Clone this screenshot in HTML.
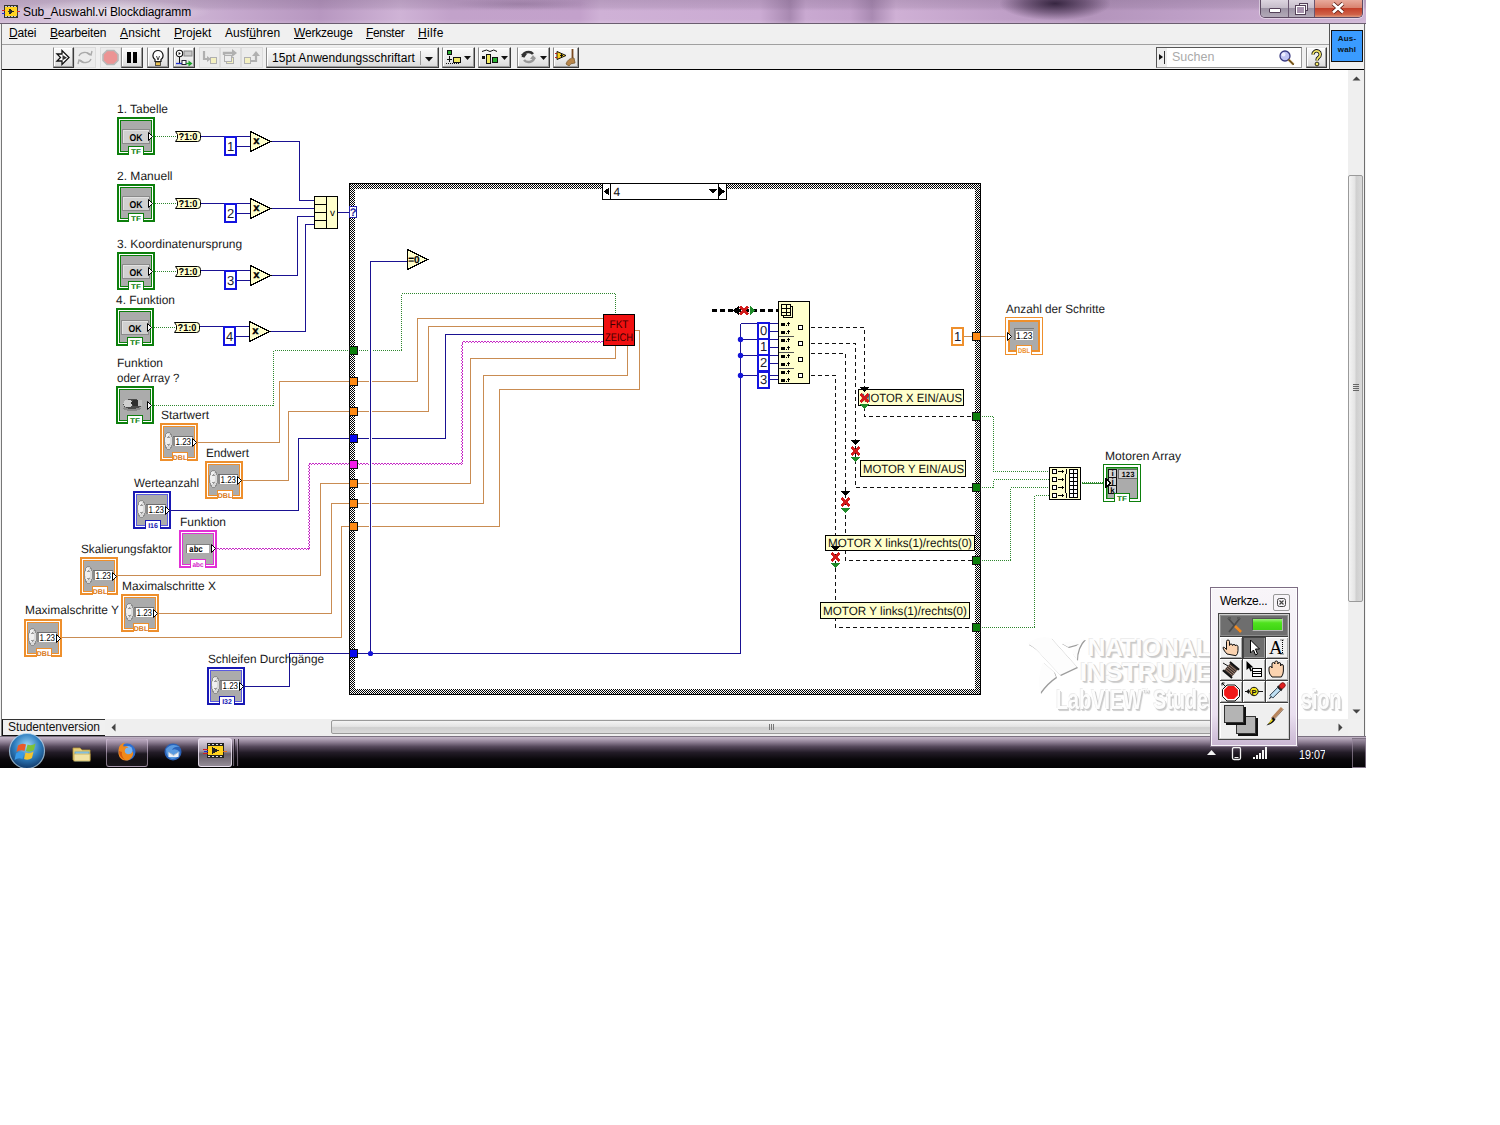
<!DOCTYPE html>
<html><head><meta charset="utf-8"><title>Sub_Auswahl.vi Blockdiagramm</title>
<style>
html,body{margin:0;padding:0;background:#fff}
svg text{-webkit-font-smoothing:antialiased}
body{width:1500px;height:1125px;position:relative;overflow:hidden;font-family:"Liberation Sans",sans-serif}
#win{position:absolute;left:0;top:0;width:1366px;height:768px;overflow:hidden;background:#c9b0d0}
#rb{position:absolute;left:1364px;top:24px;width:1px;height:713px;background:#6e6e6e;box-shadow:1px 0 0 #f4f4f4}
#tl{position:absolute;left:0;top:23px;width:1366px;height:1px;background:#6b5e70}
#canvas{position:absolute;left:2px;top:70px;width:1346px;height:649px;background:#fff}
#lb{position:absolute;left:0;top:23px;width:2px;height:714px;background:#f0f0f0;border-right:1px solid #777;box-sizing:border-box}
#bb{position:absolute;left:0;top:736px;width:1366px;height:1px;background:#7a7080}

#title{position:absolute;left:0;top:0;width:1366px;height:24px;overflow:hidden;background:linear-gradient(180deg,rgba(95,75,105,.22) 0%,rgba(95,75,105,.14) 30%,rgba(255,255,255,0) 45%,rgba(255,255,255,0) 80%,rgba(255,255,255,.18) 100%),linear-gradient(90deg,#cdb6d2 0.00%,#d8c6dc 8.78%,#c6a9ce 16.84%,#b797c0 23.43%,#cfb3d6 29.28%,#c2a2ca 32.94%,#c3a1cb 42.46%,#cfb1d6 43.92%,#cbabd3 55.64%,#a889b1 57.83%,#c9a9d1 59.00%,#c4a3cc 62.23%,#a98ab2 63.84%,#cfb0d5 65.59%,#c0a0c8 73.21%,#b394bb 79.80%,#bd9ec6 86.38%,#c6a8cd 92.24%,#ceb4d4 100.00%)}
#title .blob{position:absolute}
#wb{position:absolute;left:1260px;top:0;width:103px;height:18px;border:1px solid #5d4a63;border-top:none;border-radius:0 0 5px 5px;box-sizing:border-box;overflow:hidden;display:flex;box-shadow:0 0 0 1px rgba(255,255,255,.45)}
#wb>div{height:17px;box-sizing:border-box;position:relative}
#wb .mn{width:28px;border-right:1px solid #6a5670;background:linear-gradient(180deg,#ddd5e0 0%,#c6bdca 45%,#9d93a5 50%,#b3aab8 100%)}
#wb .mn i{position:absolute;left:8px;top:8px;width:10px;height:3px;background:#fff;border:1px solid #534058;border-radius:1px}
#wb .mx{width:27px;border-right:1px solid #6a5670;background:linear-gradient(180deg,#ddd5e0 0%,#c6bdca 45%,#9d93a5 50%,#b3aab8 100%)}
#wb .mx i{position:absolute;left:10px;top:3px;width:7px;height:6px;border:1px solid #534058;background:#eee;box-sizing:content-box}
#wb .mx b{position:absolute;left:7px;top:6px;width:7px;height:6px;border:1.5px solid #fff;outline:1px solid #534058;background:#a893ae;box-sizing:content-box}
#wb .cl{width:47px;background:linear-gradient(180deg,#e8aa9c 0%,#d98370 45%,#c4402a 50%,#cf6148 85%,#dd9a7e 100%)}
#wb .cl svg{position:absolute;left:16px;top:2px}
#menu{position:absolute;left:0;top:24px;width:1330px;height:20px;background:#f0f0f0;border-bottom:1px solid #a0a0a0}
#menu span{position:absolute;top:2px;font-size:12px;color:#000;white-space:nowrap}
#menu u{text-decoration:underline}

#tbar{position:absolute;left:0;top:45px;width:1330px;height:24px;background:#f0f0f0;border-bottom:1px solid #000}
.tb{position:absolute;top:2px;height:21px;box-sizing:border-box}
.tb.r{background:linear-gradient(180deg,#fbfbfb 0%,#ececec 55%,#d9d9d9 100%);border:1px solid;border-color:#e6e6e6 #3c3c3c #3c3c3c #8c8c8c;box-shadow:inset -1px -1px 0 #9c9c9c, inset 1px 1px 0 #fff}
.tb.r>svg.ic{left:-1px!important;top:-1px!important}
.tb.f{background:#ececec;border:1px solid #dcdcdc}
.tb.f>svg.ic{left:-1px!important;top:-1px!important}
#srch{position:absolute;left:1156px;top:2px;width:146px;height:21px;box-sizing:border-box;background:#fff;border:1px solid;border-color:#555 #999 #999 #555}
#srch .sb{position:absolute;left:0;top:0;width:10px;height:19px;background:#eee}
#srch span{position:absolute;left:15px;top:2px;font-size:12.5px;color:#aaa}
#ipane{position:absolute;left:1329px;top:24px;width:36px;height:45px;background:#f0f0f0;border-left:1px solid #555;border-bottom:1px solid #000}
#vico{position:absolute;left:1px;top:6px;width:32px;height:32px;box-sizing:border-box;background:#3a9bff;border:1px solid #111}
#vico span{position:absolute;left:0;width:30px;text-align:center;font-size:8px;font-weight:bold;color:#0a1420;letter-spacing:.2px;line-height:9px}

#vs{position:absolute;left:1348px;top:70px;width:16px;height:649px;background:#efefef;box-sizing:border-box}
#vs .th{position:absolute;border:1px solid #9a9a9a;border-radius:2px;box-sizing:border-box;background:linear-gradient(90deg,#f4f4f4 0%,#e4e4e4 45%,#cfcfcf 55%,#dadada 100%)}
#vs .th i{position:absolute;left:4px;width:6px;height:1px;background:#666}
#hs{position:absolute;left:2px;top:719px;width:1346px;height:17px;background:#efefef;box-sizing:border-box}
#hs .thh{position:absolute;border:1px solid #9a9a9a;border-radius:2px;box-sizing:border-box;background:linear-gradient(180deg,#f4f4f4 0%,#e4e4e4 45%,#cfcfcf 55%,#dadada 100%)}
#hs .thh i{position:absolute;top:3px;width:1px;height:6px;background:#777}
#stv{position:absolute;left:0;top:0;width:103px;height:17px;box-sizing:border-box;background:#f0f0f0;border-left:1px solid #111;border-bottom:1px solid #111;border-top:1px solid #333;font-size:12px;line-height:15px;padding-left:5px;color:#111;white-space:nowrap;letter-spacing:-0.1px}
#corner{position:absolute;left:1348px;top:719px;width:16px;height:17px;background:#f0f0f0}

#task{position:absolute;left:0;top:737px;width:1366px;height:31px;
 background:linear-gradient(180deg,#c2b5c6 0%,#b0a2b5 7%,#8d7e93 17%,#55485b 31%,#231c27 50%,#0a080b 72%,#020203 100%)}
#task .tbtn{position:absolute;top:1px;height:29px;box-sizing:border-box;border:1px solid rgba(220,200,225,.55);border-radius:3px;background:linear-gradient(180deg,rgba(200,180,205,.55) 0%,rgba(120,105,125,.4) 45%,rgba(30,25,32,.35) 55%,rgba(60,52,62,.4) 100%)}
#task .tbtn.act{background:linear-gradient(180deg,rgba(235,225,238,.85) 0%,rgba(190,178,193,.8) 45%,rgba(130,120,133,.75) 55%,rgba(185,175,188,.8) 100%);border-color:rgba(240,230,245,.8)}
#task .grip{position:absolute;top:2px;width:2px;height:27px;border-left:1px solid rgba(200,185,205,.5);border-right:1px solid rgba(20,15,22,.7);box-sizing:border-box}
#sd{position:absolute;left:1352px;top:1px;width:14px;height:30px;box-sizing:border-box;border:1px solid rgba(150,135,155,.7);background:linear-gradient(180deg,rgba(150,135,155,.6),rgba(30,26,32,.5) 50%,rgba(8,6,9,.6))}

#wm span{position:absolute;white-space:nowrap;font-weight:bold;color:#fdfdfd;text-shadow:1px 1px 0 #c9c9c9,2px 2px 1px #cfcfcf,-1px -1px 0 #ededed;line-height:1}

#pal{position:absolute;left:1210px;top:587px;width:88px;height:160px;box-sizing:border-box;border:1px solid #7d6d84;background:linear-gradient(180deg,#f8f5f9 0%,#f4eff6 40%,#eadff0 80%,#c9b6d2 100%);box-shadow:inset 0 0 0 1px rgba(255,255,255,.85)}
#pal .pt{position:absolute;left:9px;top:6px;font-size:12px;color:#000;letter-spacing:-.35px}
#pal .px{position:absolute;left:62px;top:6px;width:17px;height:17px;box-sizing:border-box;border:1px solid #999;border-radius:2px;background:#f7f4f8}
#pal .pin{position:absolute;left:7px;top:25px;width:72px;height:127px;box-sizing:border-box;border:1px solid #444;background:#3c3c3c;box-shadow:inset 0 0 0 1px #cfcfcf}
#pal .ptop{position:absolute;left:1px;top:1px;width:68px;height:21px;background:#6e6e6e;box-shadow:inset 0 0 0 1px #8c8c8c}
#pal .led{position:absolute;left:32px;top:3px;width:31px;height:13px;box-sizing:border-box;border:1px solid #9a9a9a;border-color:#555 #b8b8b8 #b8b8b8 #555;background:linear-gradient(180deg,#9cf57a 0%,#4fe21e 35%,#3fd414 100%)}
#pal .pc{position:absolute;width:22px;height:21px;background:#f0f0f0;box-shadow:inset 1px 1px 0 #fff,inset -1px -1px 0 #a8a8a8}
#pal .pc.sel{background:#6e6e6e;box-shadow:inset 1px 1px 0 #444,inset -1px -1px 0 #999}
#pal .pbot{position:absolute;left:1px;top:89px;width:68px;height:35px;background:#efefef;box-shadow:inset 1px 1px 0 #fff}
#pal .pbot i{position:absolute;width:20px;height:18px;box-sizing:border-box;background:#b4b4b4;border:1px solid #333;box-shadow:2px 2px 0 #111}
#pal .pbot .c1{left:4px;top:2px}
#pal .pbot .c2{left:16px;top:13px}
</style></head>
<body><div id="win">
<div id="title">
<div class="blob" style="left:1000px;top:-10px;width:110px;height:30px;background:radial-gradient(ellipse at 50% 45%,rgba(35,20,45,.85),rgba(60,40,70,.5) 40%,rgba(90,70,100,0) 72%)"></div>
<div class="blob" style="left:450px;top:-2px;width:140px;height:12px;background:radial-gradient(ellipse at center,rgba(120,95,130,.35),rgba(120,95,130,0) 70%)"></div>
<svg width="18" height="14" style="position:absolute;left:2px;top:5px" shape-rendering="crispEdges"><rect x="2" y="0" width="14" height="13" fill="#333"/><rect x="3" y="2" width="12" height="9" fill="#ffd21e"/><path d="M7,3.500 l5,3 l-5,3z" fill="#222"/><path d="M3,1h2v1h-2zM6,1h2v1h-2zM9,1h2v1h-2zM12,1h2v1h-2zM3,11h2v1h-2zM6,11h2v1h-2zM9,11h2v1h-2zM12,11h2v1h-2z" fill="#ccc"/><rect x="0" y="5" width="3" height="1" fill="#d02020"/><rect x="0" y="8" width="3" height="1" fill="#2030d0"/><rect x="15" y="6" width="3" height="1" fill="#d02020"/><path d="M6,6.500 h3 M7.500,5 v3" stroke="#333" stroke-width="1"/></svg>
<div class="blob" style="left:10px;top:0px;width:200px;height:24px;background:radial-gradient(ellipse at center,rgba(255,255,255,.55),rgba(255,255,255,0) 72%)"></div><span style="position:absolute;left:23px;top:5px;font-size:12px;color:#000;white-space:nowrap;letter-spacing:-0.12px">Sub_Auswahl.vi Blockdiagramm</span>
<div id="wb"><div class="mn"><i></i></div><div class="mx"><i></i><b></b></div><div class="cl"><svg width="14" height="12" viewBox="0 0 14 12"><path d="M2,1.5 L12,10.5 M12,1.5 L2,10.5" stroke="#5a1a10" stroke-width="4.2"/><path d="M2,1.5 L12,10.5 M12,1.5 L2,10.5" stroke="#fff" stroke-width="2.6"/></svg></div></div>
</div>
<div id="menu"><span style="left:9px;letter-spacing:-0.18px"><u>D</u>atei</span><span style="left:50px;letter-spacing:-0.19px"><u>B</u>earbeiten</span><span style="left:120px;letter-spacing:0.13px"><u>A</u>nsicht</span><span style="left:174px;letter-spacing:0px"><u>P</u>rojekt</span><span style="left:225px;letter-spacing:0.05px">Ausf<u>ü</u>hren</span><span style="left:294px;letter-spacing:-0.2px"><u>W</u>erkzeuge</span><span style="left:366px;letter-spacing:-0.33px"><u>F</u>enster</span><span style="left:418px;letter-spacing:0.36px"><u>H</u>ilfe</span></div>
<div id="tbar">
<div class="tb r" style="left:53px;width:21px"><svg class="ic" width="21" height="21" viewBox="0 0 21 21" style="position:absolute;left:0;top:0"><path d="M4,7 h5 v-3.5 l7,7 l-7,7 v-3.5 h-5 l3.5,-3.5 z" fill="#fff" stroke="#111" stroke-width="1.3"/><path d="M9.5,8 l4.5,2.8 l-4.5,2.4 z" fill="#333"/></svg></div>
<div class="tb f" style="left:74px;width:22px"><svg class="ic" width="22" height="21" viewBox="0 0 22 21" style="position:absolute;left:0;top:0"><g fill="none" stroke="#aaa" stroke-width="1.4"><path d="M5,9 a6,5 0 0 1 11,-1"/><path d="M17,12 a6,5 0 0 1 -11,1"/><path d="M13,6 l4,2 l1,-4 M9,15 l-4,-2 l-1,4"/></g></svg></div>
<div class="tb f" style="left:100px;width:21px"><svg class="ic" width="21" height="21" viewBox="0 0 21 21" style="position:absolute;left:0;top:0"><path d="M7,3.5 h7 l4,4 v6 l-4,4 h-7 l-4,-4 v-6 z" fill="#ec9494" stroke="#b8b8b8" stroke-width="1.6"/></svg></div>
<div class="tb r" style="left:121px;width:22px"><svg class="ic" width="22" height="21" viewBox="0 0 22 21" style="position:absolute;left:0;top:0"><rect x="6" y="5" width="4" height="11" fill="#000"/><rect x="12" y="5" width="4" height="11" fill="#000"/></svg></div>
<div class="tb r" style="left:147px;width:22px"><svg class="ic" width="22" height="21" viewBox="0 0 22 21" style="position:absolute;left:0;top:0"><path d="M11,3.5 a5,5 0 0 1 3,9 v2 h-6 v-2 a5,5 0 0 1 3,-9 z" fill="#fff" stroke="#111" stroke-width="1.2"/><path d="M9.5,9 l1.5,4 l1.5,-4" fill="none" stroke="#111" stroke-width=".8"/><rect x="8.5" y="15" width="5" height="3.5" fill="#e8c050" stroke="#333" stroke-width=".8"/></svg></div>
<div class="tb r" style="left:173px;width:22px"><svg class="ic" width="22" height="21" viewBox="0 0 22 21" style="position:absolute;left:0;top:0"><circle cx="6.5" cy="6.5" r="3.2" fill="#fff" stroke="#111" stroke-width="1.1"/><path d="M5.6,5 v3 l2.2,-1.5z" fill="#111"/><path d="M6.5,10 v6" stroke="#111"/><rect x="11" y="4" width="8" height="5" fill="#c8c8c8" stroke="#888"/><path d="M3,16.5 h8" stroke="#2030d0" stroke-width="1.3"/><rect x="9" y="13.5" width="4" height="4" fill="#fff" stroke="#223" /><path d="M13,16.5 h3" stroke="#18a028" stroke-width="1.3"/><path d="M15.5,13.5 l4,3 l-4,3z" fill="#18a028"/></svg></div>
<div class="tb f" style="left:199px;width:21px"><svg class="ic" width="21" height="21" viewBox="0 0 21 21" style="position:absolute;left:0;top:0"><path d="M5,4 v8 h4" fill="none" stroke="#b0b0b0" stroke-width="2.2"/><path d="M8,9 l4,3 l-4,3z" fill="#b0b0b0"/><rect x="11.5" y="10.5" width="6" height="6" fill="#f4f0c0" stroke="#b0b0b0"/></svg></div>
<div class="tb f" style="left:220px;width:21px"><svg class="ic" width="21" height="21" viewBox="0 0 21 21" style="position:absolute;left:0;top:0"><path d="M4,8 v-2 h9" fill="none" stroke="#b0b0b0" stroke-width="2.4"/><path d="M12,2 l5,4 l-5,4z" fill="#b0b0b0"/><rect x="6.500" y="10.5" width="7" height="6" fill="#f4f0c0" stroke="#b0b0b0"/><rect x="4.5" y="8.5" width="7" height="6" fill="#eee" stroke="#b0b0b0"/></svg></div>
<div class="tb f" style="left:241px;width:22px"><svg class="ic" width="22" height="21" viewBox="0 0 22 21" style="position:absolute;left:0;top:0"><rect x="3.5" y="10.5" width="6" height="6" fill="#f4f0c0" stroke="#b0b0b0"/><path d="M10,14 h5 v-6" fill="none" stroke="#b0b0b0" stroke-width="2.2"/><path d="M11,9 l4,-5 l4,5z" fill="#b0b0b0"/></svg></div>
<div class="tb r" style="left:266px;width:173px"><span style="position:absolute;left:5px;top:3px;font-size:12px;letter-spacing:0.06px;white-space:nowrap;color:#000">15pt Anwendungsschriftart</span><i style="position:absolute;left:153px;top:3px;width:1px;height:14px;background:#9a9a9a"></i><svg width="10" height="6" style="position:absolute;left:157px;top:8px"><path d="M1,1 h8 l-4,4.5z" fill="#111"/></svg></div>
<div class="tb r" style="left:442px;width:33px"><svg class="ic" width="33" height="21" viewBox="0 0 33 21" style="position:absolute;left:0;top:0"><rect x="5.500" y="3.500" width="4" height="4" fill="#28b030" stroke="#111"/><path d="M7.5,9 v6 M5,12.500 h5" stroke="#111"/><path d="M4,16.5 h14" stroke="#111" stroke-dasharray="1 1"/><rect x="11.500" y="10.500" width="7" height="5" fill="#f0e860" stroke="#111"/><path d="M22,9 h7 l-3.5,4z" fill="#111"/></svg></div>
<div class="tb r" style="left:478px;width:33px"><svg class="ic" width="33" height="21" viewBox="0 0 33 21" style="position:absolute;left:0;top:0"><path d="M4,4.5 q5,-3 8,0 q4,-3 7,0" fill="none" stroke="#111"/><rect x="4" y="9" width="3" height="3" fill="#111"/><rect x="8.500" y="7.500" width="4" height="9" fill="#f0e860" stroke="#111"/><rect x="14.500" y="10.500" width="5" height="5" fill="#28b030" stroke="#111"/><path d="M23,9 h7 l-3.5,4z" fill="#111"/></svg></div>
<div class="tb r" style="left:517px;width:33px"><svg class="ic" width="33" height="21" viewBox="0 0 33 21" style="position:absolute;left:0;top:0"><g fill="none" stroke-width="2.6"><path d="M6,10 a5.5,4.500 0 0 1 10,-3" stroke="#333"/><path d="M17,10 a5.500,4.500 0 0 1 -10,3" stroke="#999"/></g><path d="M4,7 l3,4 l3,-4z" fill="#333"/><path d="M13,12 l3,-4 l3,4z" fill="#999"/><path d="M23,9 h7 l-3.5,4z" fill="#111"/></svg></div>
<div class="tb r" style="left:553px;width:26px"><svg class="ic" width="26" height="21" viewBox="0 0 26 21" style="position:absolute;left:0;top:0"><path d="M4,4.500 l9,4 l-9,4z" fill="#ffd21e" stroke="#111"/><path d="M2,6.500 h2 M2,10.500 h2" stroke="#c02020"/><path d="M7,8.500 h3 M8.500,7 v3" stroke="#111"/><path d="M19.500,2 v9" stroke="#7a4a20" stroke-width="1.800"/><path d="M13,17 q2,-6 8,-6 l1,5 q-5,0 -6,3z" fill="#b8864a" stroke="#7a5a30" stroke-width=".8"/></svg></div>
<div id="srch"><div class="sb"><svg width="6" height="7" style="position:absolute;left:2px;top:6px"><path d="M0,0 l4,3 l-4,3z" fill="#111"/></svg><i style="position:absolute;left:7px;top:3px;width:1px;height:13px;background:#333"></i></div><span>Suchen</span><svg width="20" height="19" viewBox="0 0 20 19" style="position:absolute;left:120px;top:1px"><circle cx="8" cy="7" r="5" fill="#c0c4f4" stroke="#3a3a80" stroke-width="1.3"/><circle cx="6.500" cy="5.500" r="2" fill="#eef"/><path d="M11.500,10.500 l5,5" stroke="#a07830" stroke-width="2.400"/><path d="M11.500,10.500 l5.5,5.500" stroke="#4a3a20" stroke-width=".8"/></svg></div>
<div class="tb r" style="left:1306px;width:21px"><svg class="ic" width="21" height="21" viewBox="0 0 21 21" style="position:absolute;left:0;top:0"><path d="M7,7.500 a3.600,3.600 0 1 1 5.500,3 q-1.500,1 -1.500,3" fill="none" stroke="#111" stroke-width="3.400"/><path d="M7,7.500 a3.600,3.600 0 1 1 5.500,3 q-1.500,1 -1.500,3" fill="none" stroke="#f6e868" stroke-width="1.700"/><circle cx="11" cy="17" r="1.900" fill="#f6e868" stroke="#111" stroke-width=".9"/></svg></div>
</div>
<div id="ipane"><div id="vico"><span style="top:3px">Aus-</span><span style="top:14px">wahl</span></div></div>
<div id="lb"></div><div id="rb"></div><div id="tl"></div>
<div id="canvas"></div>
<div id="wm">
<svg width="62" height="58" viewBox="0 0 62 58" style="position:absolute;left:1027px;top:637px;filter:drop-shadow(1.5px 1.5px 0.6px #9c9c9c)">
<path d="M1,6 Q12,-2 24,1 L50,30 L33,38 L16,20 Q8,10 1,7 Z" fill="#fdfdfd"/>
<path d="M16,25 Q10,40 13,56 Q20,46 29,40 L27,35 Z" fill="#fdfdfd"/>
<path d="M34,6 L58,2 Q50,10 50,23 L45,16 Q47,10 52,7 L41,10 Z" fill="#fdfdfd"/>
</svg>
<span style="left:1088px;top:636px;font-size:24px;letter-spacing:0.1px">NATIONAL</span>
<span style="left:1080px;top:659px;font-size:26px;letter-spacing:-0.35px">INSTRUMENTS</span>
<span style="left:1056px;top:687px;font-size:27px;transform:scaleX(.735);transform-origin:0 0">LabVIEW<sup style="font-size:10px;vertical-align:top;position:relative;top:1px;margin-right:5px">™</sup>Student</span>
<span style="left:1270px;top:687px;font-size:27px;transform:scaleX(.735);transform-origin:0 0"><span style="position:static;visibility:hidden;text-shadow:none">Ver</span>sion</span>
</div>
<svg width="1366" height="768" viewBox="0 0 1366 768" style="position:absolute;left:0;top:0" shape-rendering="crispEdges" text-rendering="geometricPrecision"><defs><pattern id="chk" width="2" height="2" patternUnits="userSpaceOnUse"><rect width="2" height="2" fill="#fff"/><rect width="1" height="1" fill="#000"/><rect x="1" y="1" width="1" height="1" fill="#000"/></pattern></defs>
<path fill-rule="evenodd" fill="url(#chk)" d="M349,183 H981 V695 H349 Z M355,189 V689 H975 V189 Z"/>
<path fill="none" stroke="#000" stroke-width="1" d="M349.5,183.5 H980.5 V694.5 H349.5 Z"/>
<polyline points="154.5,136.5 175.5,136.5" fill="none" stroke="#2d862d" stroke-width="1" stroke-dasharray="1 1" />
<polyline points="200.5,136.5 250.5,136.5" fill="none" stroke="#1a1292" stroke-width="1" />
<polyline points="236.5,146.5 250.5,146.5" fill="none" stroke="#1a1292" stroke-width="1" />
<polyline points="154.5,203.5 175.5,203.5" fill="none" stroke="#2d862d" stroke-width="1" stroke-dasharray="1 1" />
<polyline points="200.5,203.5 250.5,203.5" fill="none" stroke="#1a1292" stroke-width="1" />
<polyline points="236.5,213.5 250.5,213.5" fill="none" stroke="#1a1292" stroke-width="1" />
<polyline points="154.5,271.5 175.5,271.5" fill="none" stroke="#2d862d" stroke-width="1" stroke-dasharray="1 1" />
<polyline points="200.5,270.5 250.5,270.5" fill="none" stroke="#1a1292" stroke-width="1" />
<polyline points="236.5,280.5 250.5,280.5" fill="none" stroke="#1a1292" stroke-width="1" />
<polyline points="153.5,327.5 174.5,327.5" fill="none" stroke="#2d862d" stroke-width="1" stroke-dasharray="1 1" />
<polyline points="199.5,326.5 249.5,326.5" fill="none" stroke="#1a1292" stroke-width="1" />
<polyline points="235.5,336.5 249.5,336.5" fill="none" stroke="#1a1292" stroke-width="1" />
<polyline points="270.5,141.5 299.5,141.5 299.5,200.5 314.5,200.5" fill="none" stroke="#1a1292" stroke-width="1" />
<polyline points="270.5,208.5 314.5,208.5" fill="none" stroke="#1a1292" stroke-width="1" />
<polyline points="270.5,275.5 297.5,275.5 297.5,216.5 314.5,216.5" fill="none" stroke="#1a1292" stroke-width="1" />
<polyline points="269.5,331.5 305.5,331.5 305.5,224.5 314.5,224.5" fill="none" stroke="#1a1292" stroke-width="1" />
<polyline points="337.5,212.5 349.5,212.5" fill="none" stroke="#1a1292" stroke-width="1" />
<polyline points="153.5,405.5 273.5,405.5 273.5,350.5 401.5,350.5 401.5,293.5 615.5,293.5 615.5,314.5" fill="none" stroke="#2d862d" stroke-width="1" stroke-dasharray="1 1" />
<polyline points="197.5,442.5 279.5,442.5 279.5,381.5 417.5,381.5 417.5,318.5 603.5,318.5" fill="none" stroke="#c98c52" stroke-width="1" />
<polyline points="242.5,480.5 288.5,480.5 288.5,411.5 428.5,411.5 428.5,326.5 603.5,326.5" fill="none" stroke="#c98c52" stroke-width="1" />
<polyline points="170.5,510.5 298.5,510.5 298.5,438.5 445.5,438.5 445.5,334.5 603.5,334.5" fill="none" stroke="#1a1292" stroke-width="1" />
<polyline points="216.5,548.5 309.5,548.5 309.5,463.5 462.5,463.5 462.5,341.5 603.5,341.5" fill="none" stroke="#c62ac6" stroke-width="1" stroke-dasharray="2 1" />
<polyline points="215.5,549.5 308.5,549.5 308.5,464.5 461.5,464.5 461.5,342.5 602.5,342.5" fill="none" stroke="#c62ac6" stroke-width="1" stroke-dasharray="1 2" />
<polyline points="117.5,575.5 320.5,575.5 320.5,483.5 470.5,483.5 470.5,358.5 615.5,358.5 615.5,345.5" fill="none" stroke="#c98c52" stroke-width="1" />
<polyline points="158.5,613.5 331.5,613.5 331.5,503.5 483.5,503.5 483.5,375.5 627.5,375.5 627.5,345.5" fill="none" stroke="#c98c52" stroke-width="1" />
<polyline points="61.5,637.5 341.5,637.5 341.5,526.5 499.5,526.5 499.5,389.5 639.5,389.5 639.5,330.5 634.5,330.5" fill="none" stroke="#c98c52" stroke-width="1" />
<polyline points="244.5,686.5 289.5,686.5 289.5,653.5 740.5,653.5 740.5,323.5" fill="none" stroke="#1a1292" stroke-width="1" />
<polyline points="370.5,653.5 370.5,261.5 407.5,261.5" fill="none" stroke="#1a1292" stroke-width="1" />
<circle cx="370.5" cy="653.5" r="2.6" fill="#1414d8" shape-rendering="geometricPrecision"/>
<polyline points="740.5,323.5 778.5,323.5" fill="none" stroke="#1a1292" stroke-width="1" />
<polyline points="740.5,339.5 778.5,339.5" fill="none" stroke="#1a1292" stroke-width="1" />
<polyline points="740.5,355.5 778.5,355.5" fill="none" stroke="#1a1292" stroke-width="1" />
<polyline points="740.5,375.5 778.5,375.5" fill="none" stroke="#1a1292" stroke-width="1" />
<circle cx="740.5" cy="339.5" r="2.7" fill="#1414d8" shape-rendering="geometricPrecision"/>
<circle cx="740.5" cy="355.5" r="2.7" fill="#1414d8" shape-rendering="geometricPrecision"/>
<circle cx="740.5" cy="375.5" r="2.7" fill="#1414d8" shape-rendering="geometricPrecision"/>
<polyline points="768.5,331.5 778.5,331.5" fill="none" stroke="#1a1292" stroke-width="1" />
<polyline points="768.5,347.5 778.5,347.5" fill="none" stroke="#1a1292" stroke-width="1" />
<polyline points="768.5,363.5 778.5,363.5" fill="none" stroke="#1a1292" stroke-width="1" />
<polyline points="768.5,379.5 778.5,379.5" fill="none" stroke="#1a1292" stroke-width="1" />
<rect x="369" y="340" width="1" height="200" fill="#fff"/>
<rect x="371" y="340" width="1" height="200" fill="#fff"/>
<polyline points="810.5,327.5 864.5,327.5 864.5,416.5 972.5,416.5" fill="none" stroke="#111" stroke-width="1" stroke-dasharray="4 3" />
<polyline points="810.5,343.5 855.5,343.5 855.5,487.5 972.5,487.5" fill="none" stroke="#111" stroke-width="1" stroke-dasharray="4 3" />
<polyline points="810.5,353.5 845.5,353.5 845.5,560.5 972.5,560.5" fill="none" stroke="#111" stroke-width="1" stroke-dasharray="4 3" />
<polyline points="810.5,375.5 835.5,375.5 835.5,627.5 972.5,627.5" fill="none" stroke="#111" stroke-width="1" stroke-dasharray="4 3" />
<path d="M712,310 L778,310" stroke="#000" stroke-width="3" stroke-dasharray="5 3" fill="none" transform="skewX(-20) translate(113,0)"/>
<polyline points="963.5,336.5 1005.5,336.5" fill="none" stroke="#c98c52" stroke-width="1" />
<polyline points="981.5,416.5 993.5,416.5 993.5,471.5 1049.5,471.5" fill="none" stroke="#2d862d" stroke-width="1" stroke-dasharray="1 1" />
<polyline points="981.5,487.5 993.5,487.5 993.5,479.5 1049.5,479.5" fill="none" stroke="#2d862d" stroke-width="1" stroke-dasharray="1 1" />
<polyline points="981.5,560.5 1010.5,560.5 1010.5,487.5 1049.5,487.5" fill="none" stroke="#2d862d" stroke-width="1" stroke-dasharray="1 1" />
<polyline points="981.5,627.5 1034.5,627.5 1034.5,495.5 1049.5,495.5" fill="none" stroke="#2d862d" stroke-width="1" stroke-dasharray="1 1" />
<polyline points="1081.5,482.5 1104.5,482.5" fill="none" stroke="#2d862d" stroke-width="1" stroke-dasharray="1 1" />
<polyline points="1081.5,483.5 1104.5,483.5" fill="none" stroke="#2d862d" stroke-width="1" />
<rect x="349" y="346" width="9" height="9" fill="#111"/>
<rect x="350" y="347" width="7" height="7" fill="#0c7f0c"/>
<rect x="349" y="377" width="9" height="9" fill="#111"/>
<rect x="350" y="378" width="7" height="7" fill="#ff8a14"/>
<rect x="349" y="407" width="9" height="9" fill="#111"/>
<rect x="350" y="408" width="7" height="7" fill="#ff8a14"/>
<rect x="349" y="479" width="9" height="9" fill="#111"/>
<rect x="350" y="480" width="7" height="7" fill="#ff8a14"/>
<rect x="349" y="499" width="9" height="9" fill="#111"/>
<rect x="350" y="500" width="7" height="7" fill="#ff8a14"/>
<rect x="349" y="522" width="9" height="9" fill="#111"/>
<rect x="350" y="523" width="7" height="7" fill="#ff8a14"/>
<rect x="349" y="434" width="9" height="9" fill="#111"/>
<rect x="350" y="435" width="7" height="7" fill="#0a0aee"/>
<rect x="349" y="649" width="9" height="9" fill="#111"/>
<rect x="350" y="650" width="7" height="7" fill="#0a0aee"/>
<rect x="349" y="460" width="9" height="9" fill="#111"/>
<rect x="350" y="461" width="7" height="7" fill="#f41be8"/>
<rect x="972" y="332" width="9" height="9" fill="#111"/>
<rect x="973" y="333" width="7" height="7" fill="#ff8a14"/>
<rect x="972" y="412" width="9" height="9" fill="#111"/>
<rect x="973" y="413" width="7" height="7" fill="#0c7f0c"/>
<rect x="972" y="483" width="9" height="9" fill="#111"/>
<rect x="973" y="484" width="7" height="7" fill="#0c7f0c"/>
<rect x="972" y="556" width="9" height="9" fill="#111"/>
<rect x="973" y="557" width="7" height="7" fill="#0c7f0c"/>
<rect x="972" y="623" width="9" height="9" fill="#111"/>
<rect x="973" y="624" width="7" height="7" fill="#0c7f0c"/>
<rect x="349.5" y="206.5" width="7" height="11" fill="#fff" stroke="#2424a8" stroke-width="1"/>
<text x="353" y="216" font-size="11" fill="#1a1a98" font-weight="bold" text-anchor="middle" font-family="'Liberation Sans',sans-serif" >?</text>
<rect x="602.5" y="183.5" width="124" height="16" fill="#fff" stroke="#000" stroke-width="1"/>
<rect x="610" y="184" width="1" height="15" fill="#000"/>
<rect x="718" y="184" width="1" height="15" fill="#000"/>
<path d="M603.5,191.5 l5.5,-4 v8 z M725,191.5 l-6,-4.5 v9 z M709,189 h8 l-4,4.5 z" fill="#000"/>
<text x="613.5" y="196" font-size="12" fill="#111" font-weight="normal" text-anchor="start" font-family="'Liberation Sans',sans-serif" >4</text>
<text x="117" y="113" font-size="12" fill="#1a1a1a" font-weight="normal" text-anchor="start" font-family="'Liberation Sans',sans-serif" textLength="51" lengthAdjust="spacingAndGlyphs" >1. Tabelle</text>
<rect x="117" y="117" width="38" height="38" fill="#0c7f0c"/>
<rect x="119" y="119" width="34" height="34" fill="#fff"/>
<rect x="120" y="120" width="32" height="32" fill="#0c7f0c"/>
<rect x="121" y="121" width="30" height="30" fill="#ababab"/>
<rect x="122" y="129" width="28" height="15" fill="#8a8a8a"/>
<rect x="123" y="130" width="26" height="13" fill="#e2e2e2"/>
<rect x="124" y="131" width="25" height="12" fill="#d0d0d0"/>
<text x="136" y="141" font-size="10" fill="#000" font-weight="bold" text-anchor="middle" font-family="'Liberation Sans',sans-serif" textLength="13" lengthAdjust="spacingAndGlyphs" >OK</text>
<path d="M148.5,132.5 L152.5,136.5 L148.5,140.5 Z" fill="#fff" stroke="#000" stroke-width="1" shape-rendering="geometricPrecision"/>
<rect x="128" y="146" width="16" height="9" fill="#0c7f0c"/>
<rect x="129" y="147" width="14" height="8" fill="#fff"/>
<text x="136" y="153.6" font-size="7" fill="#0c7f0c" font-weight="bold" text-anchor="middle" font-family="'Liberation Sans',sans-serif" textLength="10" lengthAdjust="spacingAndGlyphs" >TF</text>
<path d="M175.5,131.5 H197.5 Q200.5,131.5 200.5,134.5 V138.5 Q200.5,141.5 197.5,141.5 H175.5 L177.5,138.5 V134.5 Z" fill="#ffffcc" stroke="#000" stroke-width="1" shape-rendering="geometricPrecision"/>
<text x="178.5" y="140.2" font-size="10" fill="#000" font-weight="bold" text-anchor="start" font-family="'Liberation Sans',sans-serif" textLength="19" lengthAdjust="spacingAndGlyphs" >?1:0</text>
<rect x="225.0" y="137.0" width="11" height="18" fill="#fff" stroke="#1414e0" stroke-width="2"/>
<text x="230.5" y="150.8" font-size="13" fill="#1a1a30" font-weight="normal" text-anchor="middle" font-family="'Liberation Sans',sans-serif" >1</text>
<path d="M250.5,131.5 L270.5,141.5 L250.5,151.5 Z" fill="#ffffcc" stroke="#000" stroke-width="1"/>
<text x="253.5" y="144" font-size="10.5" fill="#000" font-weight="bold" text-anchor="start" font-family="'Liberation Sans',sans-serif" stroke="#000" stroke-width="0.5">x</text>
<text x="117" y="180" font-size="12" fill="#1a1a1a" font-weight="normal" text-anchor="start" font-family="'Liberation Sans',sans-serif" textLength="55.5" lengthAdjust="spacingAndGlyphs" >2. Manuell</text>
<rect x="117" y="184" width="38" height="38" fill="#0c7f0c"/>
<rect x="119" y="186" width="34" height="34" fill="#fff"/>
<rect x="120" y="187" width="32" height="32" fill="#0c7f0c"/>
<rect x="121" y="188" width="30" height="30" fill="#ababab"/>
<rect x="122" y="196" width="28" height="15" fill="#8a8a8a"/>
<rect x="123" y="197" width="26" height="13" fill="#e2e2e2"/>
<rect x="124" y="198" width="25" height="12" fill="#d0d0d0"/>
<text x="136" y="208" font-size="10" fill="#000" font-weight="bold" text-anchor="middle" font-family="'Liberation Sans',sans-serif" textLength="13" lengthAdjust="spacingAndGlyphs" >OK</text>
<path d="M148.5,199.5 L152.5,203.5 L148.5,207.5 Z" fill="#fff" stroke="#000" stroke-width="1" shape-rendering="geometricPrecision"/>
<rect x="128" y="213" width="16" height="9" fill="#0c7f0c"/>
<rect x="129" y="214" width="14" height="8" fill="#fff"/>
<text x="136" y="220.6" font-size="7" fill="#0c7f0c" font-weight="bold" text-anchor="middle" font-family="'Liberation Sans',sans-serif" textLength="10" lengthAdjust="spacingAndGlyphs" >TF</text>
<path d="M175.5,198.5 H197.5 Q200.5,198.5 200.5,201.5 V205.5 Q200.5,208.5 197.5,208.5 H175.5 L177.5,205.5 V201.5 Z" fill="#ffffcc" stroke="#000" stroke-width="1" shape-rendering="geometricPrecision"/>
<text x="178.5" y="207.2" font-size="10" fill="#000" font-weight="bold" text-anchor="start" font-family="'Liberation Sans',sans-serif" textLength="19" lengthAdjust="spacingAndGlyphs" >?1:0</text>
<rect x="225.0" y="204.0" width="11" height="18" fill="#fff" stroke="#1414e0" stroke-width="2"/>
<text x="230.5" y="217.8" font-size="13" fill="#1a1a30" font-weight="normal" text-anchor="middle" font-family="'Liberation Sans',sans-serif" >2</text>
<path d="M250.5,198.5 L270.5,208.5 L250.5,218.5 Z" fill="#ffffcc" stroke="#000" stroke-width="1"/>
<text x="253.5" y="211" font-size="10.5" fill="#000" font-weight="bold" text-anchor="start" font-family="'Liberation Sans',sans-serif" stroke="#000" stroke-width="0.5">x</text>
<text x="117" y="248" font-size="12" fill="#1a1a1a" font-weight="normal" text-anchor="start" font-family="'Liberation Sans',sans-serif" textLength="125.2" lengthAdjust="spacingAndGlyphs" >3. Koordinatenursprung</text>
<rect x="117" y="252" width="38" height="38" fill="#0c7f0c"/>
<rect x="119" y="254" width="34" height="34" fill="#fff"/>
<rect x="120" y="255" width="32" height="32" fill="#0c7f0c"/>
<rect x="121" y="256" width="30" height="30" fill="#ababab"/>
<rect x="122" y="264" width="28" height="15" fill="#8a8a8a"/>
<rect x="123" y="265" width="26" height="13" fill="#e2e2e2"/>
<rect x="124" y="266" width="25" height="12" fill="#d0d0d0"/>
<text x="136" y="276" font-size="10" fill="#000" font-weight="bold" text-anchor="middle" font-family="'Liberation Sans',sans-serif" textLength="13" lengthAdjust="spacingAndGlyphs" >OK</text>
<path d="M148.5,267.5 L152.5,271.5 L148.5,275.5 Z" fill="#fff" stroke="#000" stroke-width="1" shape-rendering="geometricPrecision"/>
<rect x="128" y="281" width="16" height="9" fill="#0c7f0c"/>
<rect x="129" y="282" width="14" height="8" fill="#fff"/>
<text x="136" y="288.6" font-size="7" fill="#0c7f0c" font-weight="bold" text-anchor="middle" font-family="'Liberation Sans',sans-serif" textLength="10" lengthAdjust="spacingAndGlyphs" >TF</text>
<path d="M175.5,266.5 H197.5 Q200.5,266.5 200.5,269.5 V273.5 Q200.5,276.5 197.5,276.5 H175.5 L177.5,273.5 V269.5 Z" fill="#ffffcc" stroke="#000" stroke-width="1" shape-rendering="geometricPrecision"/>
<text x="178.5" y="275.2" font-size="10" fill="#000" font-weight="bold" text-anchor="start" font-family="'Liberation Sans',sans-serif" textLength="19" lengthAdjust="spacingAndGlyphs" >?1:0</text>
<rect x="225.0" y="271.0" width="11" height="18" fill="#fff" stroke="#1414e0" stroke-width="2"/>
<text x="230.5" y="284.8" font-size="13" fill="#1a1a30" font-weight="normal" text-anchor="middle" font-family="'Liberation Sans',sans-serif" >3</text>
<path d="M250.5,265.5 L270.5,275.5 L250.5,285.5 Z" fill="#ffffcc" stroke="#000" stroke-width="1"/>
<text x="253.5" y="278" font-size="10.5" fill="#000" font-weight="bold" text-anchor="start" font-family="'Liberation Sans',sans-serif" stroke="#000" stroke-width="0.5">x</text>
<text x="116" y="304" font-size="12" fill="#1a1a1a" font-weight="normal" text-anchor="start" font-family="'Liberation Sans',sans-serif" textLength="59" lengthAdjust="spacingAndGlyphs" >4. Funktion</text>
<rect x="116" y="308" width="38" height="38" fill="#0c7f0c"/>
<rect x="118" y="310" width="34" height="34" fill="#fff"/>
<rect x="119" y="311" width="32" height="32" fill="#0c7f0c"/>
<rect x="120" y="312" width="30" height="30" fill="#ababab"/>
<rect x="121" y="320" width="28" height="15" fill="#8a8a8a"/>
<rect x="122" y="321" width="26" height="13" fill="#e2e2e2"/>
<rect x="123" y="322" width="25" height="12" fill="#d0d0d0"/>
<text x="135" y="332" font-size="10" fill="#000" font-weight="bold" text-anchor="middle" font-family="'Liberation Sans',sans-serif" textLength="13" lengthAdjust="spacingAndGlyphs" >OK</text>
<path d="M147.5,323.5 L151.5,327.5 L147.5,331.5 Z" fill="#fff" stroke="#000" stroke-width="1" shape-rendering="geometricPrecision"/>
<rect x="127" y="337" width="16" height="9" fill="#0c7f0c"/>
<rect x="128" y="338" width="14" height="8" fill="#fff"/>
<text x="135" y="344.6" font-size="7" fill="#0c7f0c" font-weight="bold" text-anchor="middle" font-family="'Liberation Sans',sans-serif" textLength="10" lengthAdjust="spacingAndGlyphs" >TF</text>
<path d="M174.5,322.5 H196.5 Q199.5,322.5 199.5,325.5 V329.5 Q199.5,332.5 196.5,332.5 H174.5 L176.5,329.5 V325.5 Z" fill="#ffffcc" stroke="#000" stroke-width="1" shape-rendering="geometricPrecision"/>
<text x="177.5" y="331.2" font-size="10" fill="#000" font-weight="bold" text-anchor="start" font-family="'Liberation Sans',sans-serif" textLength="19" lengthAdjust="spacingAndGlyphs" >?1:0</text>
<rect x="224.0" y="327.0" width="11" height="18" fill="#fff" stroke="#1414e0" stroke-width="2"/>
<text x="229.5" y="340.8" font-size="13" fill="#1a1a30" font-weight="normal" text-anchor="middle" font-family="'Liberation Sans',sans-serif" >4</text>
<path d="M249.5,321.5 L269.5,331.5 L249.5,341.5 Z" fill="#ffffcc" stroke="#000" stroke-width="1"/>
<text x="252.5" y="334" font-size="10.5" fill="#000" font-weight="bold" text-anchor="start" font-family="'Liberation Sans',sans-serif" stroke="#000" stroke-width="0.5">x</text>
<rect x="314.5" y="196.5" width="23" height="32" fill="#ffffcc" stroke="#000" stroke-width="1"/>
<rect x="326" y="196" width="1" height="33" fill="#000"/>
<rect x="314" y="204" width="13" height="1" fill="#000"/>
<rect x="314" y="212" width="13" height="1" fill="#000"/>
<rect x="314" y="220" width="13" height="1" fill="#000"/>
<text x="332.5" y="215.5" font-size="10" fill="#000" font-weight="normal" text-anchor="middle" font-family="'Liberation Sans',sans-serif" >v</text>
<path d="M407.5,249.5 L427.5,259.5 L407.5,269.5 Z" fill="#ffffcc" stroke="#000" stroke-width="1"/>
<text x="408.2" y="262.6" font-size="10" fill="#000" font-weight="bold" text-anchor="start" font-family="'Liberation Sans',sans-serif" stroke="#000" stroke-width="0.2">=0</text>
<text x="117" y="367" font-size="12" fill="#1a1a1a" font-weight="normal" text-anchor="start" font-family="'Liberation Sans',sans-serif" textLength="46" lengthAdjust="spacingAndGlyphs" >Funktion</text>
<text x="117" y="382" font-size="12" fill="#1a1a1a" font-weight="normal" text-anchor="start" font-family="'Liberation Sans',sans-serif" textLength="62.5" lengthAdjust="spacingAndGlyphs" >oder Array ?</text>
<rect x="116" y="386" width="38" height="38" fill="#0c7f0c"/>
<rect x="118" y="388" width="34" height="34" fill="#fff"/>
<rect x="119" y="389" width="32" height="32" fill="#0c7f0c"/>
<rect x="120" y="390" width="30" height="30" fill="#ababab"/>
<ellipse cx="132" cy="408.5" rx="9" ry="2.5" fill="#8a8a8a"/>
<ellipse cx="132.5" cy="404" rx="9.5" ry="5" fill="#4a4a4a"/>
<ellipse cx="128" cy="403.5" rx="4.5" ry="3.6" fill="#cfcfcf"/>
<ellipse cx="136" cy="403" rx="5" ry="3" fill="#2e2e2e"/>
<ellipse cx="140" cy="403" rx="2.4" ry="3.4" fill="#bdbdbd"/>
<path d="M147.5,401.5 L151.5,405.5 L147.5,409.5 Z" fill="#fff" stroke="#000" stroke-width="1" shape-rendering="geometricPrecision"/>
<rect x="127" y="415" width="16" height="9" fill="#0c7f0c"/>
<rect x="128" y="416" width="14" height="8" fill="#fff"/>
<text x="135" y="422.6" font-size="7" fill="#0c7f0c" font-weight="bold" text-anchor="middle" font-family="'Liberation Sans',sans-serif" textLength="10" lengthAdjust="spacingAndGlyphs" >TF</text>
<text x="161" y="419" font-size="12" fill="#1a1a1a" font-weight="normal" text-anchor="start" font-family="'Liberation Sans',sans-serif" textLength="48" lengthAdjust="spacingAndGlyphs" >Startwert</text>
<rect x="160" y="423" width="38" height="38" fill="#ee8f2c"/>
<rect x="162" y="425" width="34" height="34" fill="#fff"/>
<rect x="163" y="426" width="32" height="32" fill="#ee8f2c"/>
<rect x="164" y="427" width="30" height="30" fill="#ababab"/>
<ellipse cx="168.5" cy="441" rx="4" ry="8.5" fill="#d9d9d9" stroke="#8e8e8e" stroke-width="1"/>
<ellipse cx="167.6" cy="440" rx="2.2" ry="6.5" fill="#efefef"/>
<path d="M168.5,435.5 l-1.8,2.6 h3.6 z M168.5,446.5 l-1.8,-2.6 h3.6 z" fill="#9a9a9a"/>
<rect x="173" y="436" width="20" height="1" fill="#6e6e6e"/>
<rect x="173" y="437" width="2" height="9" fill="#8a8a8a"/>
<rect x="175" y="437" width="17" height="9" fill="#fff"/>
<text x="175.5" y="445.3" font-size="10" fill="#000" font-weight="normal" text-anchor="start" font-family="'Liberation Sans',sans-serif" textLength="15.5" lengthAdjust="spacingAndGlyphs" >1.23</text>
<path d="M192.5,438.5 L196.5,442.5 L192.5,446.5 Z" fill="#fff" stroke="#000" stroke-width="1" shape-rendering="geometricPrecision"/>
<rect x="172" y="452" width="16" height="9" fill="#ee8f2c"/>
<rect x="173" y="453" width="14" height="8" fill="#fff"/>
<text x="180" y="459.6" font-size="7" fill="#d9781a" font-weight="bold" text-anchor="middle" font-family="'Liberation Sans',sans-serif" >DBL</text>
<text x="206" y="457" font-size="12" fill="#1a1a1a" font-weight="normal" text-anchor="start" font-family="'Liberation Sans',sans-serif" textLength="43" lengthAdjust="spacingAndGlyphs" >Endwert</text>
<rect x="205" y="461" width="38" height="38" fill="#ee8f2c"/>
<rect x="207" y="463" width="34" height="34" fill="#fff"/>
<rect x="208" y="464" width="32" height="32" fill="#ee8f2c"/>
<rect x="209" y="465" width="30" height="30" fill="#ababab"/>
<ellipse cx="213.5" cy="479" rx="4" ry="8.5" fill="#d9d9d9" stroke="#8e8e8e" stroke-width="1"/>
<ellipse cx="212.6" cy="478" rx="2.2" ry="6.5" fill="#efefef"/>
<path d="M213.5,473.5 l-1.8,2.6 h3.6 z M213.5,484.5 l-1.8,-2.6 h3.6 z" fill="#9a9a9a"/>
<rect x="218" y="474" width="20" height="1" fill="#6e6e6e"/>
<rect x="218" y="475" width="2" height="9" fill="#8a8a8a"/>
<rect x="220" y="475" width="17" height="9" fill="#fff"/>
<text x="220.5" y="483.3" font-size="10" fill="#000" font-weight="normal" text-anchor="start" font-family="'Liberation Sans',sans-serif" textLength="15.5" lengthAdjust="spacingAndGlyphs" >1.23</text>
<path d="M237.5,476.5 L241.5,480.5 L237.5,484.5 Z" fill="#fff" stroke="#000" stroke-width="1" shape-rendering="geometricPrecision"/>
<rect x="217" y="490" width="16" height="9" fill="#ee8f2c"/>
<rect x="218" y="491" width="14" height="8" fill="#fff"/>
<text x="225" y="497.6" font-size="7" fill="#d9781a" font-weight="bold" text-anchor="middle" font-family="'Liberation Sans',sans-serif" >DBL</text>
<text x="134" y="487" font-size="12" fill="#1a1a1a" font-weight="normal" text-anchor="start" font-family="'Liberation Sans',sans-serif" textLength="65" lengthAdjust="spacingAndGlyphs" >Werteanzahl</text>
<rect x="133" y="491" width="38" height="38" fill="#1818b4"/>
<rect x="135" y="493" width="34" height="34" fill="#fff"/>
<rect x="136" y="494" width="32" height="32" fill="#5a5ae0"/>
<rect x="137" y="495" width="30" height="30" fill="#ababab"/>
<ellipse cx="141.5" cy="509" rx="4" ry="8.5" fill="#d9d9d9" stroke="#8e8e8e" stroke-width="1"/>
<ellipse cx="140.6" cy="508" rx="2.2" ry="6.5" fill="#efefef"/>
<path d="M141.5,503.5 l-1.8,2.6 h3.6 z M141.5,514.5 l-1.8,-2.6 h3.6 z" fill="#9a9a9a"/>
<rect x="146" y="504" width="20" height="1" fill="#6e6e6e"/>
<rect x="146" y="505" width="2" height="9" fill="#8a8a8a"/>
<rect x="148" y="505" width="17" height="9" fill="#fff"/>
<text x="148.5" y="513.3" font-size="10" fill="#000" font-weight="normal" text-anchor="start" font-family="'Liberation Sans',sans-serif" textLength="15.5" lengthAdjust="spacingAndGlyphs" >1.23</text>
<path d="M165.5,506.5 L169.5,510.5 L165.5,514.5 Z" fill="#fff" stroke="#000" stroke-width="1" shape-rendering="geometricPrecision"/>
<rect x="145" y="520" width="16" height="9" fill="#1818b4"/>
<rect x="146" y="521" width="14" height="8" fill="#fff"/>
<text x="153" y="527.6" font-size="7" fill="#1818b4" font-weight="bold" text-anchor="middle" font-family="'Liberation Sans',sans-serif" >I16</text>
<text x="180" y="526" font-size="12" fill="#1a1a1a" font-weight="normal" text-anchor="start" font-family="'Liberation Sans',sans-serif" textLength="46" lengthAdjust="spacingAndGlyphs" >Funktion</text>
<rect x="179" y="530" width="38" height="38" fill="#e22fd6"/>
<rect x="181" y="532" width="34" height="34" fill="#fff"/>
<rect x="182" y="533" width="32" height="32" fill="#e22fd6"/>
<rect x="183" y="534" width="30" height="30" fill="#ababab"/>
<rect x="186" y="544" width="24" height="1" fill="#7e7e7e"/>
<rect x="186" y="545" width="1" height="8" fill="#7e7e7e"/>
<rect x="187" y="545" width="22" height="8" fill="#fff"/>
<text x="189" y="552" font-size="9" fill="#000" font-weight="bold" text-anchor="start" font-family="'Liberation Mono',sans-serif" textLength="14" lengthAdjust="spacingAndGlyphs" >abc</text>
<path d="M211.5,544.5 L215.5,548.5 L211.5,552.5 Z" fill="#fff" stroke="#000" stroke-width="1" shape-rendering="geometricPrecision"/>
<rect x="190" y="559" width="16" height="9" fill="#e22fd6"/>
<rect x="191" y="560" width="14" height="8" fill="#fff"/>
<text x="198" y="566.6" font-size="7" fill="#d414c8" font-weight="bold" text-anchor="middle" font-family="'Liberation Sans',sans-serif" textLength="11" lengthAdjust="spacingAndGlyphs" >abc</text>
<text x="81" y="553" font-size="12" fill="#1a1a1a" font-weight="normal" text-anchor="start" font-family="'Liberation Sans',sans-serif" textLength="91" lengthAdjust="spacingAndGlyphs" >Skalierungsfaktor</text>
<rect x="80" y="557" width="38" height="38" fill="#ee8f2c"/>
<rect x="82" y="559" width="34" height="34" fill="#fff"/>
<rect x="83" y="560" width="32" height="32" fill="#ee8f2c"/>
<rect x="84" y="561" width="30" height="30" fill="#ababab"/>
<ellipse cx="88.5" cy="575" rx="4" ry="8.5" fill="#d9d9d9" stroke="#8e8e8e" stroke-width="1"/>
<ellipse cx="87.6" cy="574" rx="2.2" ry="6.5" fill="#efefef"/>
<path d="M88.5,569.5 l-1.8,2.6 h3.6 z M88.5,580.5 l-1.8,-2.6 h3.6 z" fill="#9a9a9a"/>
<rect x="93" y="570" width="20" height="1" fill="#6e6e6e"/>
<rect x="93" y="571" width="2" height="9" fill="#8a8a8a"/>
<rect x="95" y="571" width="17" height="9" fill="#fff"/>
<text x="95.5" y="579.3" font-size="10" fill="#000" font-weight="normal" text-anchor="start" font-family="'Liberation Sans',sans-serif" textLength="15.5" lengthAdjust="spacingAndGlyphs" >1.23</text>
<path d="M112.5,572.5 L116.5,576.5 L112.5,580.5 Z" fill="#fff" stroke="#000" stroke-width="1" shape-rendering="geometricPrecision"/>
<rect x="92" y="586" width="16" height="9" fill="#ee8f2c"/>
<rect x="93" y="587" width="14" height="8" fill="#fff"/>
<text x="100" y="593.6" font-size="7" fill="#d9781a" font-weight="bold" text-anchor="middle" font-family="'Liberation Sans',sans-serif" >DBL</text>
<text x="122" y="590" font-size="12" fill="#1a1a1a" font-weight="normal" text-anchor="start" font-family="'Liberation Sans',sans-serif" textLength="94" lengthAdjust="spacingAndGlyphs" >Maximalschritte X</text>
<rect x="121" y="594" width="38" height="38" fill="#ee8f2c"/>
<rect x="123" y="596" width="34" height="34" fill="#fff"/>
<rect x="124" y="597" width="32" height="32" fill="#ee8f2c"/>
<rect x="125" y="598" width="30" height="30" fill="#ababab"/>
<ellipse cx="129.5" cy="612" rx="4" ry="8.5" fill="#d9d9d9" stroke="#8e8e8e" stroke-width="1"/>
<ellipse cx="128.6" cy="611" rx="2.2" ry="6.5" fill="#efefef"/>
<path d="M129.5,606.5 l-1.8,2.6 h3.6 z M129.5,617.5 l-1.8,-2.6 h3.6 z" fill="#9a9a9a"/>
<rect x="134" y="607" width="20" height="1" fill="#6e6e6e"/>
<rect x="134" y="608" width="2" height="9" fill="#8a8a8a"/>
<rect x="136" y="608" width="17" height="9" fill="#fff"/>
<text x="136.5" y="616.3" font-size="10" fill="#000" font-weight="normal" text-anchor="start" font-family="'Liberation Sans',sans-serif" textLength="15.5" lengthAdjust="spacingAndGlyphs" >1.23</text>
<path d="M153.5,609.5 L157.5,613.5 L153.5,617.5 Z" fill="#fff" stroke="#000" stroke-width="1" shape-rendering="geometricPrecision"/>
<rect x="133" y="623" width="16" height="9" fill="#ee8f2c"/>
<rect x="134" y="624" width="14" height="8" fill="#fff"/>
<text x="141" y="630.6" font-size="7" fill="#d9781a" font-weight="bold" text-anchor="middle" font-family="'Liberation Sans',sans-serif" >DBL</text>
<text x="25" y="614" font-size="12" fill="#1a1a1a" font-weight="normal" text-anchor="start" font-family="'Liberation Sans',sans-serif" textLength="94" lengthAdjust="spacingAndGlyphs" >Maximalschritte Y</text>
<rect x="24" y="619" width="38" height="38" fill="#ee8f2c"/>
<rect x="26" y="621" width="34" height="34" fill="#fff"/>
<rect x="27" y="622" width="32" height="32" fill="#ee8f2c"/>
<rect x="28" y="623" width="30" height="30" fill="#ababab"/>
<ellipse cx="32.5" cy="637" rx="4" ry="8.5" fill="#d9d9d9" stroke="#8e8e8e" stroke-width="1"/>
<ellipse cx="31.6" cy="636" rx="2.2" ry="6.5" fill="#efefef"/>
<path d="M32.5,631.5 l-1.8,2.6 h3.6 z M32.5,642.5 l-1.8,-2.6 h3.6 z" fill="#9a9a9a"/>
<rect x="37" y="632" width="20" height="1" fill="#6e6e6e"/>
<rect x="37" y="633" width="2" height="9" fill="#8a8a8a"/>
<rect x="39" y="633" width="17" height="9" fill="#fff"/>
<text x="39.5" y="641.3" font-size="10" fill="#000" font-weight="normal" text-anchor="start" font-family="'Liberation Sans',sans-serif" textLength="15.5" lengthAdjust="spacingAndGlyphs" >1.23</text>
<path d="M56.5,634.5 L60.5,638.5 L56.5,642.5 Z" fill="#fff" stroke="#000" stroke-width="1" shape-rendering="geometricPrecision"/>
<rect x="36" y="648" width="16" height="9" fill="#ee8f2c"/>
<rect x="37" y="649" width="14" height="8" fill="#fff"/>
<text x="44" y="655.6" font-size="7" fill="#d9781a" font-weight="bold" text-anchor="middle" font-family="'Liberation Sans',sans-serif" >DBL</text>
<text x="208" y="663" font-size="12" fill="#1a1a1a" font-weight="normal" text-anchor="start" font-family="'Liberation Sans',sans-serif" textLength="116" lengthAdjust="spacingAndGlyphs" >Schleifen Durchgänge</text>
<rect x="207" y="667" width="38" height="38" fill="#1818b4"/>
<rect x="209" y="669" width="34" height="34" fill="#fff"/>
<rect x="210" y="670" width="32" height="32" fill="#5a5ae0"/>
<rect x="211" y="671" width="30" height="30" fill="#ababab"/>
<ellipse cx="215.5" cy="685" rx="4" ry="8.5" fill="#d9d9d9" stroke="#8e8e8e" stroke-width="1"/>
<ellipse cx="214.6" cy="684" rx="2.2" ry="6.5" fill="#efefef"/>
<path d="M215.5,679.5 l-1.8,2.6 h3.6 z M215.5,690.5 l-1.8,-2.6 h3.6 z" fill="#9a9a9a"/>
<rect x="220" y="680" width="20" height="1" fill="#6e6e6e"/>
<rect x="220" y="681" width="2" height="9" fill="#8a8a8a"/>
<rect x="222" y="681" width="17" height="9" fill="#fff"/>
<text x="222.5" y="689.3" font-size="10" fill="#000" font-weight="normal" text-anchor="start" font-family="'Liberation Sans',sans-serif" textLength="15.5" lengthAdjust="spacingAndGlyphs" >1.23</text>
<path d="M239.5,682.5 L243.5,686.5 L239.5,690.5 Z" fill="#fff" stroke="#000" stroke-width="1" shape-rendering="geometricPrecision"/>
<rect x="219" y="696" width="16" height="9" fill="#1818b4"/>
<rect x="220" y="697" width="14" height="8" fill="#fff"/>
<text x="227" y="703.6" font-size="7" fill="#1818b4" font-weight="bold" text-anchor="middle" font-family="'Liberation Sans',sans-serif" >I32</text>
<rect x="603.5" y="314.5" width="31" height="31" fill="#f01010" stroke="#000" stroke-width="1"/>
<text x="619" y="328" font-size="11" fill="#3a0000" font-weight="normal" text-anchor="middle" font-family="'Liberation Sans',sans-serif" textLength="19" lengthAdjust="spacingAndGlyphs" >FKT</text>
<text x="619" y="341" font-size="11" fill="#3a0000" font-weight="normal" text-anchor="middle" font-family="'Liberation Sans',sans-serif" textLength="28" lengthAdjust="spacingAndGlyphs" >ZEICH</text>
<rect x="758.0" y="323.0" width="11" height="16" fill="#fff" stroke="#1414e0" stroke-width="2"/>
<text x="763.5" y="334.8" font-size="13" fill="#1a1a30" font-weight="normal" text-anchor="middle" font-family="'Liberation Sans',sans-serif" >0</text>
<rect x="758.0" y="339.0" width="11" height="16" fill="#fff" stroke="#1414e0" stroke-width="2"/>
<text x="763.5" y="350.8" font-size="13" fill="#1a1a30" font-weight="normal" text-anchor="middle" font-family="'Liberation Sans',sans-serif" >1</text>
<rect x="758.0" y="355.0" width="11" height="16" fill="#fff" stroke="#1414e0" stroke-width="2"/>
<text x="763.5" y="366.8" font-size="13" fill="#1a1a30" font-weight="normal" text-anchor="middle" font-family="'Liberation Sans',sans-serif" >2</text>
<rect x="758.0" y="372.0" width="11" height="16" fill="#fff" stroke="#1414e0" stroke-width="2"/>
<text x="763.5" y="383.8" font-size="13" fill="#1a1a30" font-weight="normal" text-anchor="middle" font-family="'Liberation Sans',sans-serif" >3</text>
<rect x="778.5" y="301.5" width="31" height="82" fill="#ffffcc" stroke="#000" stroke-width="1"/>
<rect x="779" y="336" width="15" height="1" fill="#555"/>
<rect x="779" y="352" width="15" height="1" fill="#555"/>
<rect x="779" y="368" width="15" height="1" fill="#555"/>
<rect x="781" y="323" width="4" height="3" fill="#000"/>
<rect x="786" y="325" width="1" height="1" fill="#000"/>
<rect x="788" y="322" width="1" height="4" fill="#000"/>
<rect x="787" y="323" width="3" height="1" fill="#000"/>
<rect x="781" y="331" width="4" height="3" fill="#000"/>
<rect x="786" y="333" width="1" height="1" fill="#000"/>
<rect x="788" y="330" width="1" height="4" fill="#000"/>
<rect x="787" y="331" width="3" height="1" fill="#000"/>
<rect x="781" y="339" width="4" height="3" fill="#000"/>
<rect x="786" y="341" width="1" height="1" fill="#000"/>
<rect x="788" y="338" width="1" height="4" fill="#000"/>
<rect x="787" y="339" width="3" height="1" fill="#000"/>
<rect x="781" y="347" width="4" height="3" fill="#000"/>
<rect x="786" y="349" width="1" height="1" fill="#000"/>
<rect x="788" y="346" width="1" height="4" fill="#000"/>
<rect x="787" y="347" width="3" height="1" fill="#000"/>
<rect x="781" y="355" width="4" height="3" fill="#000"/>
<rect x="786" y="357" width="1" height="1" fill="#000"/>
<rect x="788" y="354" width="1" height="4" fill="#000"/>
<rect x="787" y="355" width="3" height="1" fill="#000"/>
<rect x="781" y="363" width="4" height="3" fill="#000"/>
<rect x="786" y="365" width="1" height="1" fill="#000"/>
<rect x="788" y="362" width="1" height="4" fill="#000"/>
<rect x="787" y="363" width="3" height="1" fill="#000"/>
<rect x="781" y="371" width="4" height="3" fill="#000"/>
<rect x="786" y="373" width="1" height="1" fill="#000"/>
<rect x="788" y="370" width="1" height="4" fill="#000"/>
<rect x="787" y="371" width="3" height="1" fill="#000"/>
<rect x="781" y="379" width="4" height="3" fill="#000"/>
<rect x="786" y="381" width="1" height="1" fill="#000"/>
<rect x="788" y="378" width="1" height="4" fill="#000"/>
<rect x="787" y="379" width="3" height="1" fill="#000"/>
<rect x="798.5" y="325.5" width="4" height="4" fill="#fff" stroke="#000" stroke-width="1"/>
<rect x="798.5" y="341.5" width="4" height="4" fill="#fff" stroke="#000" stroke-width="1"/>
<rect x="798.5" y="357.5" width="4" height="4" fill="#fff" stroke="#000" stroke-width="1"/>
<rect x="798.5" y="373.5" width="4" height="4" fill="#fff" stroke="#000" stroke-width="1"/>
<g stroke="#000" stroke-width="1" fill="none"><rect x="783.5" y="306.5" width="9" height="11"/><rect x="781.5" y="304.5" width="9" height="11" fill="#ffffcc"/><path d="M786.5,304.5 v11 M781.5,308.5 h9 M781.5,312.5 h9"/></g>
<path d="M739,305.5 V315.5 L733,310.5 Z" fill="#000"/>
<path d="M740,306.5 l8,8 M740,314.5 l8,-8" stroke="#d11a1a" stroke-width="3" fill="none"/>
<path d="M750,306.0 V315.0 L755,310.5 Z" fill="#1f8a2a"/>
<path d="M859.5,387 H869.5 L864.5,392 Z" fill="#000"/>
<path d="M860.5,394 l8,8 M868.5,394 l-8,8" stroke="#d11a1a" stroke-width="3" fill="none"/>
<path d="M860.0,404 H869.0 L864.5,409 Z" fill="#1f8a2a"/>
<rect x="858.5" y="389.5" width="105" height="16" fill="#ffffcc" stroke="#000" stroke-width="1"/>
<text x="861" y="402" font-size="12" fill="#111" font-weight="normal" text-anchor="start" font-family="'Liberation Sans',sans-serif" textLength="101" lengthAdjust="spacingAndGlyphs" >MOTOR X EIN/AUS</text>
<path d="M859.5,387 H869.5 L864.5,392 Z" fill="#000"/>
<path d="M860.5,394 l8,8 M868.5,394 l-8,8" stroke="#d11a1a" stroke-width="3" fill="none"/>
<path d="M860.0,404 H869.0 L864.5,409 Z" fill="#1f8a2a"/>
<path d="M850.5,440 H860.5 L855.5,445 Z" fill="#000"/>
<path d="M851.5,447 l8,8 M859.5,447 l-8,8" stroke="#d11a1a" stroke-width="3" fill="none"/>
<path d="M851.0,457 H860.0 L855.5,462 Z" fill="#1f8a2a"/>
<rect x="860.5" y="460.5" width="105" height="16" fill="#ffffcc" stroke="#000" stroke-width="1"/>
<text x="863" y="473" font-size="12" fill="#111" font-weight="normal" text-anchor="start" font-family="'Liberation Sans',sans-serif" textLength="101" lengthAdjust="spacingAndGlyphs" >MOTOR Y EIN/AUS</text>
<path d="M840.5,491 H850.5 L845.5,496 Z" fill="#000"/>
<path d="M841.5,498 l8,8 M849.5,498 l-8,8" stroke="#d11a1a" stroke-width="3" fill="none"/>
<path d="M841.0,508 H850.0 L845.5,513 Z" fill="#1f8a2a"/>
<rect x="825.5" y="535.5" width="149" height="15" fill="#ffffcc" stroke="#000" stroke-width="1"/>
<text x="828" y="547" font-size="12" fill="#111" font-weight="normal" text-anchor="start" font-family="'Liberation Sans',sans-serif" textLength="144" lengthAdjust="spacingAndGlyphs" >MOTOR X links(1)/rechts(0)</text>
<path d="M830.5,546 H840.5 L835.5,551 Z" fill="#000"/>
<path d="M831.5,553 l8,8 M839.5,553 l-8,8" stroke="#d11a1a" stroke-width="3" fill="none"/>
<path d="M831.0,563 H840.0 L835.5,568 Z" fill="#1f8a2a"/>
<rect x="820.5" y="602.5" width="149" height="16" fill="#ffffcc" stroke="#000" stroke-width="1"/>
<text x="823" y="615" font-size="12" fill="#111" font-weight="normal" text-anchor="start" font-family="'Liberation Sans',sans-serif" textLength="144" lengthAdjust="spacingAndGlyphs" >MOTOR Y links(1)/rechts(0)</text>
<rect x="952.0" y="328.0" width="11" height="17" fill="#fff" stroke="#ee8f2c" stroke-width="2"/>
<text x="957.5" y="340.8" font-size="13" fill="#1a1a30" font-weight="normal" text-anchor="middle" font-family="'Liberation Sans',sans-serif" >1</text>
<text x="1006" y="313" font-size="12" fill="#1a1a1a" font-weight="normal" text-anchor="start" font-family="'Liberation Sans',sans-serif" textLength="99" lengthAdjust="spacingAndGlyphs" >Anzahl der Schritte</text>
<rect x="1005" y="317" width="38" height="38" fill="#ee8f2c"/>
<rect x="1006" y="318" width="36" height="36" fill="#fff"/>
<rect x="1008" y="320" width="32" height="32" fill="#ee8f2c"/>
<rect x="1010" y="322" width="28" height="28" fill="#ababab"/>
<path d="M1007.5,332.5 L1011.5,336.5 L1007.5,340.5 Z" fill="#fff" stroke="#000" stroke-width="1" shape-rendering="geometricPrecision"/>
<rect x="1014" y="328" width="20" height="1" fill="#7c7c7c"/>
<rect x="1014" y="329" width="1" height="11" fill="#7c7c7c"/>
<rect x="1015" y="330" width="18" height="10" fill="#8e8e8e"/>
<rect x="1016" y="331" width="17" height="9" fill="#fff"/>
<text x="1016" y="339.3" font-size="10" fill="#000" font-weight="normal" text-anchor="start" font-family="'Liberation Sans',sans-serif" textLength="16.5" lengthAdjust="spacingAndGlyphs" >1.23</text>
<rect x="1016" y="345" width="16" height="9" fill="#ee8f2c"/>
<rect x="1017" y="346" width="14" height="9" fill="#fff"/>
<text x="1024" y="353.3" font-size="7" fill="#ee8f2c" font-weight="bold" text-anchor="middle" font-family="'Liberation Sans',sans-serif" textLength="12" lengthAdjust="spacingAndGlyphs" >DBL</text>
<text x="1105" y="460" font-size="12" fill="#1a1a1a" font-weight="normal" text-anchor="start" font-family="'Liberation Sans',sans-serif" textLength="76" lengthAdjust="spacingAndGlyphs" >Motoren Array</text>
<rect x="1049.5" y="467.5" width="31" height="32" fill="#ffffcc" stroke="#000" stroke-width="1"/>
<rect x="1052.5" y="469.5" width="4" height="4" fill="#fff" stroke="#000" stroke-width="1"/>
<rect x="1058" y="471" width="3" height="1" fill="#000"/>
<rect x="1062" y="470" width="1" height="3" fill="#000"/>
<rect x="1061" y="471" width="3" height="1" fill="#000"/>
<rect x="1052.5" y="477.5" width="4" height="4" fill="#fff" stroke="#000" stroke-width="1"/>
<rect x="1058" y="479" width="3" height="1" fill="#000"/>
<rect x="1062" y="478" width="1" height="3" fill="#000"/>
<rect x="1061" y="479" width="3" height="1" fill="#000"/>
<rect x="1052.5" y="485.5" width="4" height="4" fill="#fff" stroke="#000" stroke-width="1"/>
<rect x="1058" y="487" width="3" height="1" fill="#000"/>
<rect x="1062" y="486" width="1" height="3" fill="#000"/>
<rect x="1061" y="487" width="3" height="1" fill="#000"/>
<rect x="1052.5" y="493.5" width="4" height="4" fill="#fff" stroke="#000" stroke-width="1"/>
<rect x="1058" y="495" width="3" height="1" fill="#000"/>
<rect x="1062" y="494" width="1" height="3" fill="#000"/>
<rect x="1061" y="495" width="3" height="1" fill="#000"/>
<path d="M1066.5,469 q-2,14 0,29" stroke="#000" fill="none"/>
<g stroke="#000" stroke-width="1" fill="#fff"><rect x="1069.5" y="469.5" width="8" height="28"/><path d="M1073.5,469.5 v28 M1069.5,473.5 h8 M1069.5,477.5 h8 M1069.5,481.5 h8 M1069.5,485.5 h8 M1069.5,489.5 h8 M1069.5,493.5 h8"/></g>
<rect x="1103" y="464" width="38" height="38" fill="#0c7f0c"/>
<rect x="1104" y="465" width="36" height="36" fill="#fff"/>
<rect x="1106" y="467" width="32" height="32" fill="#0c7f0c"/>
<rect x="1107" y="468" width="30" height="30" fill="#ababab"/>
<rect x="1107" y="468" width="30" height="1" fill="#58a858"/>
<rect x="1107" y="468" width="1" height="30" fill="#58a858"/>
<rect x="1108.5" y="469.5" width="8" height="24" fill="#d4d4d4" stroke="#111" stroke-width="1"/>
<rect x="1108" y="477" width="9" height="1" fill="#111"/>
<rect x="1108" y="485" width="9" height="1" fill="#111"/>
<text x="1112.5" y="476" font-size="8" fill="#000" font-weight="bold" text-anchor="middle" font-family="'Liberation Sans',sans-serif" >i</text>
<text x="1112.5" y="483.5" font-size="8" fill="#000" font-weight="bold" text-anchor="middle" font-family="'Liberation Sans',sans-serif" >j</text>
<text x="1112.5" y="492.5" font-size="8" fill="#000" font-weight="bold" text-anchor="middle" font-family="'Liberation Sans',sans-serif" >k</text>
<rect x="1118" y="469" width="19" height="10" fill="#6a6a6a"/>
<rect x="1119" y="470" width="18" height="8" fill="#d0d0d0"/>
<text x="1128" y="477" font-size="8" fill="#000" font-weight="bold" text-anchor="middle" font-family="'Liberation Mono',sans-serif" textLength="13" lengthAdjust="spacingAndGlyphs" >123</text>
<path d="M1105.5,478 v10 M1106,478.5 L1110.5,483 L1106,487.5 Z" fill="#fff" stroke="#000" stroke-width="1"/>
<rect x="1114" y="493" width="16" height="9" fill="#0c7f0c"/>
<rect x="1115" y="494" width="14" height="8" fill="#fff"/>
<text x="1122" y="501" font-size="7" fill="#0c7f0c" font-weight="bold" text-anchor="middle" font-family="'Liberation Sans',sans-serif" textLength="10" lengthAdjust="spacingAndGlyphs" >TF</text></svg>
<div id="vs"><svg width="9" height="5" style="position:absolute;left:4px;top:6px"><path d="M0.500,4.500 h8 l-4,-4z" fill="#444"/></svg>
<div class="th" style="left:0px;top:105px;width:15px;height:427px"><i style="top:208px"></i><i style="top:210px"></i><i style="top:212px"></i><i style="top:214px"></i></div>
<svg width="9" height="5" style="position:absolute;left:4px;top:639px"><path d="M0.500,0.500 h8 l-4,4z" fill="#444"/></svg></div>
<div id="hs"><div id="stv">Studentenversion</div>
<svg width="5" height="9" style="position:absolute;left:109px;top:4px"><path d="M4.500,0.500 v8 l-4,-4z" fill="#444"/></svg>
<div class="thh" style="left:329px;top:1px;width:884px;height:14px"><i style="left:437px"></i><i style="left:439px"></i><i style="left:441px"></i></div>
<svg width="5" height="9" style="position:absolute;left:1336px;top:4px"><path d="M0.500,0.500 v8 l4,-4z" fill="#444"/></svg></div>
<div id="corner"></div>
<div id="bb"></div>
<div id="task">
<div class="tbtn" style="left:106px;width:42px"></div>
<div class="tbtn act" style="left:198px;width:34px"></div>
<div class="grip" style="left:233px"></div><div class="grip" style="left:237px"></div>
<svg width="40" height="36" viewBox="0 0 40 36" style="position:absolute;left:7px;top:-5px">
<defs><radialGradient id="orb" cx="50%" cy="35%" r="65%"><stop offset="0" stop-color="#9fd8f6"/><stop offset=".55" stop-color="#2f7fc0"/><stop offset="1" stop-color="#123a6a"/></radialGradient></defs>
<circle cx="20" cy="19" r="17.500" fill="url(#orb)" stroke="#bfe0f4" stroke-opacity=".7" stroke-width="1.200"/>
<path d="M11,13.500 q4,-3 8,-1 l-1.500,6.500 q-4,-2 -8,1z" fill="#e85a2a"/>
<path d="M20.500,12.500 q4,2 8,-1 l-1.500,6.500 q-4,3 -8,1z" fill="#7cc23a"/>
<path d="M9,21.500 q4,-3 8,-1 l-1.500,6.500 q-4,-2 -8,1z" fill="#3a9be8"/>
<path d="M18.500,20.500 q4,2 8,-1 l-1.500,6.500 q-4,3 -8,1z" fill="#f4c430"/>
</svg>
<svg width="20" height="18" viewBox="0 0 20 18" style="position:absolute;left:72px;top:8px"><path d="M1,3 h7 l2,2 h8 v10 h-17z" fill="#e8cf7a" stroke="#b89a3a" stroke-width=".8"/><rect x="3" y="7" width="14" height="9" fill="#9fd4ee" stroke="#5aa0c8" stroke-width=".8"/><rect x="2" y="9" width="16" height="7" fill="#f2e3a4" stroke="#c8ac52" stroke-width=".8"/></svg>
<svg width="22" height="22" viewBox="0 0 22 22" style="position:absolute;left:116px;top:4px"><circle cx="11" cy="11" r="8.500" fill="#2d6fd0"/><circle cx="12" cy="9.500" r="4.500" fill="#7ab4f0"/><path d="M2.500,9 q0,-6 7,-7.500 q-3,2 -2,4 q3,-1 5,1 q-3,0 -3.500,2 q-1,3 2,4.500 q4,1 6,-3 q1,6 -4,9 q-6,2 -9.500,-3 q-1.500,-3 -1,-7z" fill="#f08a1c"/><path d="M3,10 q0,6 6,9 q-4,-4 -3,-8z" fill="#d85a10"/></svg>
<svg width="22" height="22" viewBox="0 0 22 22" style="position:absolute;left:162px;top:4px"><circle cx="11" cy="11" r="8.500" fill="#2a62b8"/><path d="M4,8 q6,-7 14,-2 q-6,-1 -8,3 q4,-2 8,2 q-1,7 -8,7 q-6,-2 -6,-10z" fill="#5a9ae0"/><path d="M6.500,11 l5,3 l5,-3 v5 h-10z" fill="#eef2f8"/><path d="M6.500,11 l5,3.500 l5,-3.500" fill="none" stroke="#9ab" stroke-width=".7"/></svg>
<svg width="24" height="18" viewBox="0 0 24 18" style="position:absolute;left:203px;top:6px" shape-rendering="crispEdges"><rect x="4" y="0" width="17" height="15" fill="#222"/><rect x="5" y="3" width="15" height="9" fill="#ffd21e"/><path d="M9,4 l7,3.500 l-7,3.500z" fill="#222"/><path d="M5,1h2v1h-2zM9,1h2v1h-2zM13,1h2v1h-2zM17,1h2v1h-2zM5,13h2v1h-2zM9,13h2v1h-2zM13,13h2v1h-2zM17,13h2v1h-2z" fill="#ddd"/><path d="M0,6 h5 M0,10 h5" stroke="#d02020" stroke-width="1"/><path d="M1,8 h4" stroke="#2030d0"/><path d="M20,8 h4" stroke="#e07020"/></svg>
<svg width="120" height="16" viewBox="0 0 120 16" style="position:absolute;left:1205px;top:9px">
<path d="M2,9 h9 l-4.500,-5z" fill="#f4f4f4"/>
<rect x="27.500" y="1.500" width="8" height="12" rx="1.500" fill="none" stroke="#f0f0f0" stroke-width="1.300"/><rect x="29.500" y="11" width="4" height="1" fill="#f0f0f0"/>
<g fill="#f4f4f4"><rect x="48" y="11" width="2" height="2"/><rect x="51" y="9" width="2" height="4"/><rect x="54" y="7" width="2" height="6"/><rect x="57" y="4" width="2" height="9"/><rect x="60" y="1" width="2" height="12"/></g>
<text x="94" y="13" font-family="'Liberation Sans',sans-serif" font-size="12" fill="#fff" textLength="27" lengthAdjust="spacingAndGlyphs">19:07</text>
</svg>
<div id="sd"></div>
</div>
<div id="pal"><span class="pt">Werkze...</span><div class="px"><svg width="9" height="9" viewBox="0 0 9 9" style="position:absolute;left:3px;top:3px"><rect x="0.500" y="0.500" width="8" height="8" rx="2" fill="none" stroke="#444"/><path d="M2.500,2.500 l4,4 M6.500,2.500 l-4,4" stroke="#444" stroke-width="1.200"/></svg></div><div class="pin">
<div class="ptop"><svg width="30" height="21" viewBox="0 0 30 21" style="position:absolute;left:2px;top:0"><path d="M6,3 l12,14 M18,3 l-11,14" stroke="#4a4a4a" stroke-width="1.800"/><path d="M6,3 l3,0 M18,3 l-3,0" stroke="#5a5a5a" stroke-width="2"/><path d="M13,11 l6,6" stroke="#f08a20" stroke-width="2.600"/></svg><div class="led"></div></div>
<div class="pc" style="left:1px;top:23px"><svg width="22" height="21" viewBox="0 0 22 21" style="position:absolute;left:0;top:0"><path d="M7,17 q-3,-3 -4,-6 q0,-1.500 1.500,-0.500 l2,2 v-8 q0,-1.500 1.500,-1.500 q1.500,0 1.500,1.500 v4 q0,-1.500 1.500,-1.500 t1.500,1.500 q0,-1 1.500,-1 t1.500,1.500 q0,-1 1.200,-0.800 t1.300,1.500 v4 q0,3 -2,5z" fill="#fbd3b0" stroke="#111" stroke-width="1"/></svg></div>
<div class="pc sel" style="left:24px;top:23px"><svg width="22" height="21" viewBox="0 0 22 21" style="position:absolute;left:0;top:0"><path d="M7.500,3 v13 l3,-3 l2,5 l2,-1 l-2,-5 h4z" fill="#fff" stroke="#000" stroke-width="1"/></svg></div>
<div class="pc" style="left:47px;top:23px"><svg width="22" height="21" viewBox="0 0 22 21" style="position:absolute;left:0;top:0"><text x="3" y="17" font-family="'Liberation Serif',serif" font-size="19" fill="#000">A</text><path d="M16.500,3 v14 M14.500,3 h4 M14.500,17 h4" stroke="#000" stroke-width="1" stroke-dasharray="1 1"/></svg></div>
<div class="pc" style="left:1px;top:45px"><svg width="22" height="21" viewBox="0 0 22 21" style="position:absolute;left:0;top:0"><g transform="rotate(40 11 11)"><rect x="6" y="6" width="10" height="10" fill="#3a3030"/><path d="M6,8 h10 M6,10 h10 M6,12 h10 M6,14 h10" stroke="#c8a080" stroke-width=".7"/><rect x="5" y="4.500" width="12" height="2" fill="#111"/><rect x="5" y="15.500" width="12" height="2" fill="#111"/></g><path d="M3,4 l5,3" stroke="#111"/></svg></div>
<div class="pc" style="left:24px;top:45px"><svg width="22" height="21" viewBox="0 0 22 21" style="position:absolute;left:0;top:0"><path d="M3.500,2 v9 l2.500,-2 l1.500,3.500 l1.500,-.7 l-1.500,-3.300 h3z" fill="#000"/><rect x="9.500" y="9.500" width="9" height="8" fill="#fff" stroke="#000"/><path d="M10,12.500 h8 M10,14.500 h8" stroke="#000"/></svg></div>
<div class="pc" style="left:47px;top:45px"><svg width="22" height="21" viewBox="0 0 22 21" style="position:absolute;left:0;top:0"><path d="M6,18 q-3,-3 -3,-6 v-3 q0,-1.500 1.500,-1.500 t1.500,1.500 v-4 q0,-1.500 1.400,-1.500 t1.400,1.500 v-1.500 q0,-1.500 1.500,-1.500 t1.500,1.500 v1.500 q0,-1.500 1.400,-1.500 t1.400,1.500 v2 q0,-1.500 1.400,-1.500 t1.400,1.500 v5 q0,3 -2,6z" fill="#fbd3b0" stroke="#111" stroke-width="1"/></svg></div>
<div class="pc" style="left:1px;top:67px"><svg width="22" height="21" viewBox="0 0 22 21" style="position:absolute;left:0;top:0"><path d="M7.500,4.500 h7 l4,4 v6 l-4,4 h-7 l-4,-4 v-6z" fill="#f01818" stroke="#fff" stroke-width="1.200"/><path d="M7,4 h8 l4.500,4.500 v7 l-4.500,4.500 h-8 l-4.500,-4.500 v-7z" fill="none" stroke="#111" stroke-width="1"/><path d="M2,2 l3,3 M2,2 h2.500 M2,2 v2.500" stroke="#111" stroke-width="1"/></svg></div>
<div class="pc" style="left:24px;top:67px"><svg width="22" height="21" viewBox="0 0 22 21" style="position:absolute;left:0;top:0"><path d="M2,10.500 h18" stroke="#111"/><path d="M3,10.500 l3,-2.500 v5z" fill="#111"/><circle cx="11" cy="10.500" r="4.200" fill="#f4e11c" stroke="#111" stroke-width="1"/><text x="11" y="13.500" text-anchor="middle" font-size="7.500" font-weight="bold" font-family="'Liberation Sans',sans-serif" fill="#111">P</text></svg></div>
<div class="pc" style="left:47px;top:67px"><svg width="22" height="21" viewBox="0 0 22 21" style="position:absolute;left:0;top:0"><g transform="rotate(45 11 10)"><rect x="9" y="7" width="4" height="11" fill="#bfe0f4" stroke="#234" stroke-width=".9"/><path d="M11,18 v3" stroke="#234"/><rect x="8" y="5" width="6" height="2.200" fill="#222"/><ellipse cx="11" cy="2.500" rx="2.600" ry="3.200" fill="#e02020" stroke="#611" stroke-width=".7"/></g></svg></div>
<div class="pbot"><i class="c2"></i><i class="c1"></i><svg width="26" height="24" viewBox="0 0 26 24" style="position:absolute;left:40px;top:2px"><path d="M22,3 l-10,11" stroke="#b8845a" stroke-width="3"/><path d="M22,3 l-10,11" stroke="#5a3a20" stroke-width=".6" transform="translate(1.500,1.200)"/><path d="M13,12 l2.500,2.500 q-3,5 -9,6 q4,-4 6.500,-8.500z" fill="#111"/><path d="M8,19 q3,-1 5,-4 l-1.500,-1 q-1.500,3 -3.500,5z" fill="#f4e11c"/></svg></div>
</div></div>
</div></body></html>
